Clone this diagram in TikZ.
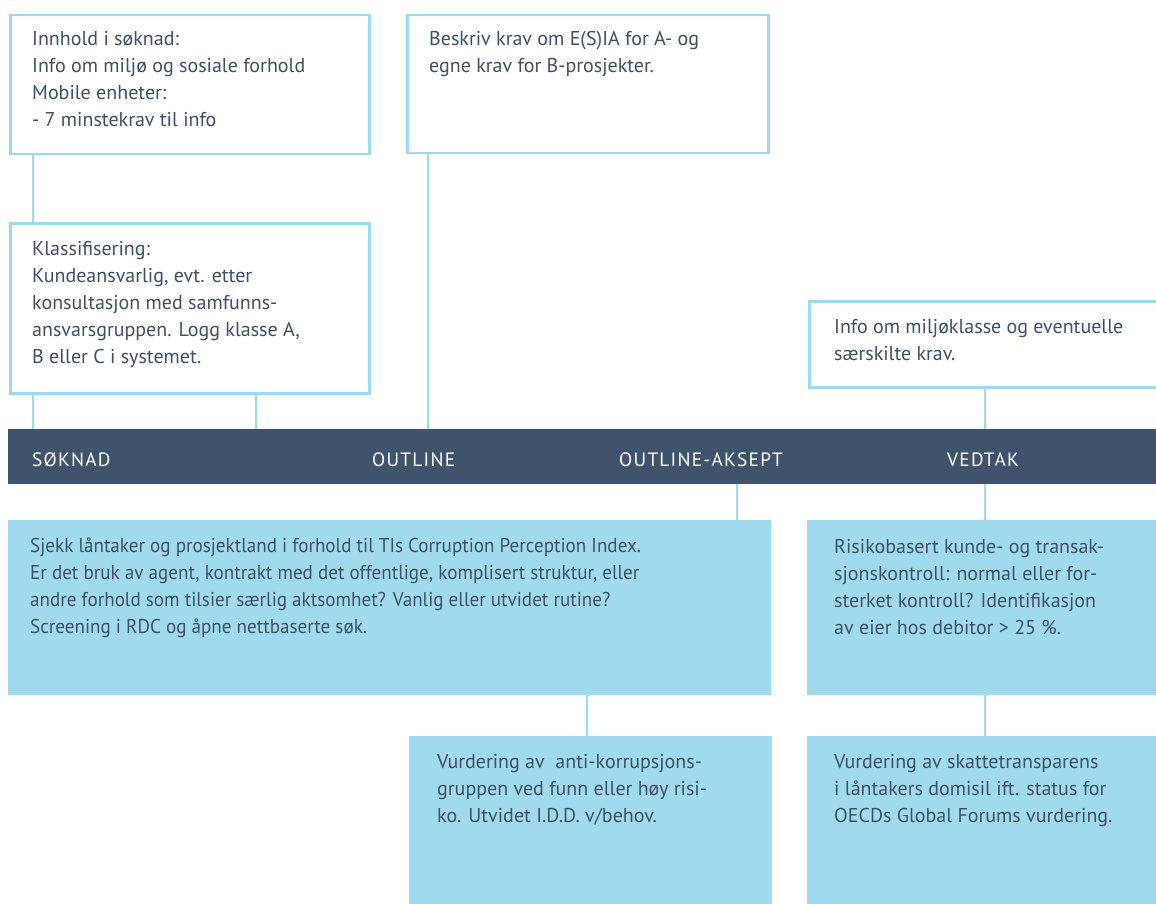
\documentclass[tikz,border=0pt]{standalone}
\usepackage{fontspec}
\setmainfont{PT Sans}
\newfontfamily\condfont{PT Sans}[FakeStretch=0.955]
\newfontfamily\bandfont{PT Sans}[LetterSpace=6.5]
\usetikzlibrary{calc}
\definecolor{band}{HTML}{3F546C}
\definecolor{ink}{HTML}{3E5068}
\definecolor{lblue}{HTML}{A0DAEF}
\definecolor{lline}{HTML}{9DD9EF}
\begin{document}
\begin{tikzpicture}[x=1pt,y=-1pt,
  wbox/.style={draw=lline, line width=2.5pt, fill=white, rectangle, inner sep=0pt, anchor=north west},
  bbox/.style={fill=lblue, rectangle, inner sep=0pt, anchor=north west},
  bandbox/.style={fill=band, rectangle, inner sep=0pt, anchor=north west},
  txt/.style={text=ink, align=left, inner sep=0pt, anchor=north west, yshift=18.9pt, execute at begin node={\strut}, font=\fontsize{20}{27}\selectfont},
  ctxt/.style={txt, font=\condfont\fontsize{20}{27}\selectfont},
  btxt/.style={text=white, inner sep=0pt, anchor=base west, font=\bandfont\fontsize{19.3}{24}\selectfont},
  conn/.style={draw=lline, line width=2.5pt}]
\useasboundingbox (0,0) rectangle (1156,904);
\clip (0,0) rectangle (1156,904);
% x positions of connectors
\coordinate (xa) at (33,0);
\coordinate (xb) at (256,0);
\coordinate (xc) at (428,0);
\coordinate (xd) at (985,0);
\coordinate (xe) at (737,0);
\coordinate (xf) at (587,0);
% boxes
\node[wbox, minimum width=359pt, minimum height=139pt] (innhold) at (9,14) {};
\node[wbox, minimum width=361pt, minimum height=138pt] (beskriv) at (406,14) {};
\node[wbox, minimum width=359pt, minimum height=170pt] (klass) at (9,222) {};
\node[wbox, minimum width=360pt, minimum height=86pt] (infomil) at (808,300) {};
\node[bandbox, minimum width=1150pt, minimum height=55pt] (band) at (8,429) {};
\node[bbox, minimum width=763pt, minimum height=175pt] (sjekk) at (8,520) {};
\node[bbox, minimum width=352pt, minimum height=175pt] (risiko) at (807,520) {};
\node[bbox, minimum width=363pt, minimum height=170pt] (vurdak) at (409,736) {};
\node[bbox, minimum width=352pt, minimum height=170pt] (vurdskatt) at (807,736) {};
% connectors
\draw[conn] (innhold.south -| xa) -- (klass.north -| xa);
\draw[conn] (klass.south -| xa) -- (band.north -| xa);
\draw[conn] (klass.south -| xb) -- (band.north -| xb);
\draw[conn] (beskriv.south -| xc) -- (band.north -| xc);
\draw[conn] (infomil.south -| xd) -- (band.north -| xd);
\draw[conn] (band.south -| xe) -- (sjekk.north -| xe);
\draw[conn] (band.south -| xd) -- (risiko.north -| xd);
\draw[conn] (sjekk.south -| xf) -- (vurdak.north -| xf);
\draw[conn] (risiko.south -| xd) -- (vurdskatt.north -| xd);
% texts (positions are first-line baselines)
\node[txt] (t1) at (32,50) {Innhold i søknad:\\Info om miljø og sosiale forhold\\Mobile enheter:\\- 7 minstekrav til info};
\node[txt] (t2) at (429,50) {Beskriv krav om E(S)IA for A- og\\egne krav for B-prosjekter.};
\node[txt] (t3) at (32,260) {Klassifisering:\\Kundeansvarlig, evt. etter\\konsultasjon med samfunns-\\ansvarsgruppen. Logg klasse A,\\B eller C i systemet.};
\node[txt] (t4) at (834,338) {Info om miljøklasse og eventuelle\\særskilte krav.};
\node[btxt] (l1) at (32,466) {SØKNAD};
\node[btxt] (l2) at (372,466) {OUTLINE};
\node[btxt] (l3) at (619,466) {OUTLINE-AKSEPT};
\node[btxt] (l4) at (947,466) {VEDTAK};
\node[ctxt] (t5) at (30,557) {Sjekk låntaker og prosjektland i forhold til TIs Corruption Perception Index.\\Er det bruk av agent, kontrakt med det offentlige, komplisert struktur, eller\\andre forhold som tilsier særlig aktsomhet? Vanlig eller utvidet rutine?\\Screening i RDC og åpne nettbaserte søk.};
\node[txt] (t6) at (834,558) {Risikobasert kunde- og transak-\\sjonskontroll: normal eller for-\\sterket kontroll? Identifikasjon\\av eier hos debitor > 25 \%.};
\node[txt] (t7) at (437,773) {Vurdering av\ \ anti-korrupsjons-\\gruppen ved funn eller høy risi-\\ko. Utvidet I.D.D. v/behov.};
\node[txt] (t8) at (834,773) {Vurdering av skattetransparens\\i låntakers domisil ift. status for\\OECDs Global Forums vurdering.};
\end{tikzpicture}
\end{document}
